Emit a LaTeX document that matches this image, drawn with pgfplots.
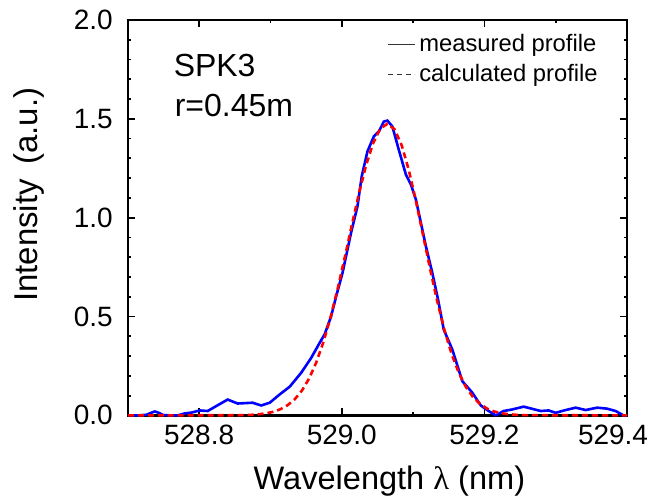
\documentclass[border=0pt]{standalone}
\usepackage{fontspec}
\setmainfont{Liberation Sans}
\newfontfamily\lamfont{Liberation Serif}
\usepackage{pgfplots}
\pgfplotsset{compat=1.18}
\begin{document}
\begin{tikzpicture}
\begin{axis}[
  scale only axis,
  width=250pt, height=198pt,
  xmin=528.7, xmax=529.4, ymin=0, ymax=2,
  xtick={528.8,529.0,529.2,529.4},
  xticklabels={528.8,529.0,529.2,529.4\hspace*{14pt}},
  minor xtick={528.9,529.1,529.3},
  ytick={0,0.5,1.0,1.5,2.0},
  minor y tick num=4,
  tick align=inside,
  major tick length=3.5pt,
  minor tick length=1.75pt,
  every tick/.style={black, line width=0.9pt},
  axis line style={line width=1.3pt},
  /pgf/number format/assume math mode=true,
  xticklabel style={font=\fontsize{14}{16}\selectfont, yshift=-1.3pt},
  yticklabel style={/pgf/number format/.cd, fixed, fixed zerofill, precision=1, /tikz/.cd, font=\fontsize{14}{16}\selectfont, xshift=-4pt},
  scaled x ticks=false,
  xlabel={Wavelength {\lamfont λ} (nm)},
  ylabel={Intensity\, (a.u.)},
  xlabel style={font=\fontsize{16.3}{18}\selectfont, at={(axis description cs:0.524,-0.187)}, anchor=base},
  ylabel style={font=\fontsize{16.5}{18}\selectfont, at={(axis description cs:-0.18,0.558)}, anchor=base},
  clip=false,
  legend style={at={(axis description cs:0.95,0.975)}, anchor=north east, draw=none, fill=none,
    font=\fontsize{11.9}{13.5}\selectfont, inner sep=0pt, row sep=1pt},
  legend cell align=left,
  legend image code/.code={\draw[#1] (0pt,0pt) -- (13.5pt,0pt);},
]
\addlegendimage{black!80, line width=0.8pt}
\addlegendentry{measured profile}
\addlegendimage{black!80, line width=0.8pt, dash pattern=on 2.5pt off 2pt}
\addlegendentry{calculated profile}

\addplot[blue, line width=1.3pt, forget plot] coordinates {
(528.700,0.000) (528.715,0.000) (528.726,0.003) (528.732,0.012) (528.738,0.020)
(528.744,0.012) (528.749,0.002) (528.760,0.000) (528.770,0.000) (528.780,0.010)
(528.789,0.014) (528.801,0.025) (528.812,0.022) (528.824,0.047) (528.840,0.080)
(528.854,0.060) (528.875,0.064) (528.887,0.050) (528.899,0.064) (528.913,0.106)
(528.927,0.145) (528.943,0.215) (528.957,0.290) (528.969,0.367) (528.976,0.410)
(528.985,0.500) (528.992,0.600) (529.001,0.720) (529.013,0.923) (529.022,1.057)
(529.028,1.209) (529.036,1.335) (529.045,1.411) (529.052,1.436) (529.059,1.486)
(529.064,1.491) (529.071,1.461) (529.080,1.343) (529.090,1.217) (529.097,1.167)
(529.104,1.091) (529.118,0.855) (529.127,0.720) (529.135,0.586) (529.143,0.434)
(529.155,0.333) (529.169,0.173) (529.183,0.115) (529.195,0.050) (529.206,0.022)
(529.216,0.000) (529.227,0.022) (529.239,0.030) (529.255,0.044) (529.265,0.035)
(529.279,0.022) (529.290,0.025) (529.300,0.013) (529.314,0.027) (529.328,0.039)
(529.342,0.027) (529.358,0.039) (529.372,0.034) (529.384,0.022) (529.395,0.000)
(529.400,0.000)
};

\addplot[red, line width=1.3pt, dash pattern=on 3pt off 2pt, forget plot] coordinates {
(528.700,0.000) (528.854,0.0007) (528.864,0.0015) (528.874,0.003) (528.884,0.0057)
(528.894,0.0104) (528.904,0.0183) (528.914,0.0312) (528.924,0.0512) (528.934,0.0813)
(528.944,0.1248) (528.954,0.185) (528.964,0.2655) (528.974,0.368) (528.984,0.492)
(528.994,0.637) (529.004,0.796) (529.014,0.961) (529.024,1.121) (529.034,1.264)
(529.044,1.377) (529.054,1.450) (529.064,1.475) (529.074,1.447) (529.084,1.366)
(529.094,1.241) (529.104,1.084) (529.114,0.912) (529.124,0.738) (529.134,0.575)
(529.144,0.431) (529.154,0.311) (529.164,0.216) (529.174,0.144) (529.184,0.0927)
(529.194,0.0573) (529.204,0.0340) (529.214,0.0195) (529.224,0.0108) (529.234,0.0057)
(529.244,0.003) (529.254,0.0012) (529.400,0.000)
};

\node[anchor=base west, font=\fontsize{16}{18}\selectfont] at (rel axis cs:0.078,0.856) {SPK3};
\node[anchor=base west, font=\fontsize{16}{18}\selectfont] at (rel axis cs:0.080,0.755) {r=0.45m};
\end{axis}
\pgfresetboundingbox
\path ([shift={(-64pt,-43pt)}]current axis.south west) rectangle ([shift={(12pt,10pt)}]current axis.north east);
\end{tikzpicture}
\end{document}
